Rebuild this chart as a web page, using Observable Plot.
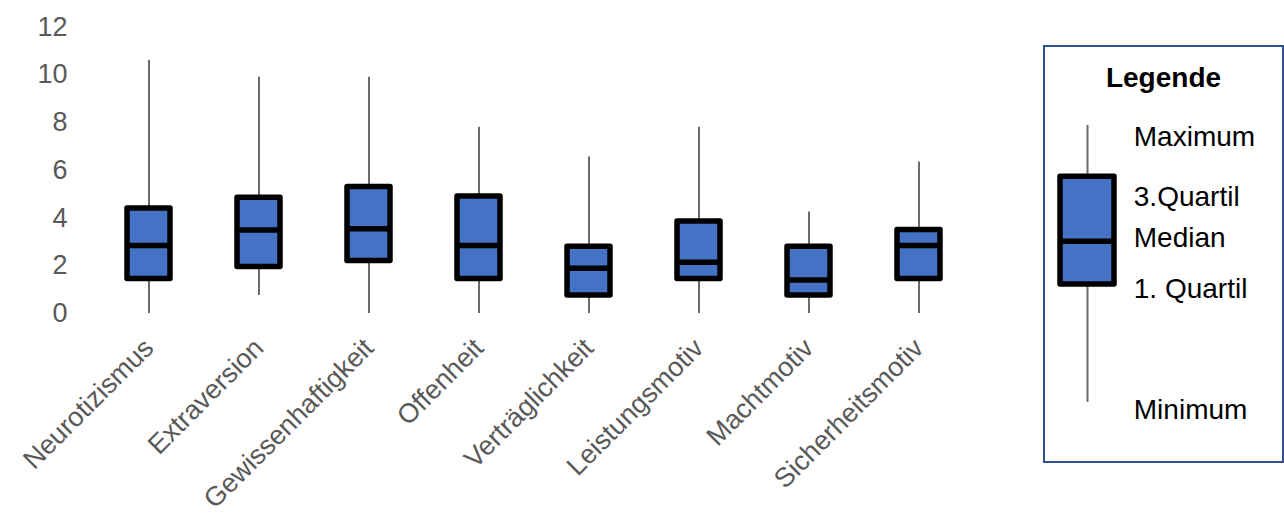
<!DOCTYPE html>
<html>
<head>
<meta charset="utf-8">
<script src="https://cdn.jsdelivr.net/npm/d3@7"></script>
<script src="https://cdn.jsdelivr.net/npm/@observablehq/plot@0.6"></script>
<style>
  body { margin: 0; background: #fff; font-family: "Liberation Sans", Arial, sans-serif; }
  #wrap { position: relative; width: 1284px; height: 517px; overflow: hidden; background: #fff; }
  #chart { position: absolute; left: 0; top: 0; }
  #legend { position: absolute; left: 1043px; top: 45px; width: 241px; height: 418px; box-sizing: border-box; border: 2px solid #2F528F; }
  #legend-title { position: absolute; left: 0; right: 0; top: 17px; text-align: center; font-weight: bold; font-size: 28px; line-height: 28px; color: #000; }
  #legend-plot { position: absolute; left: 0; top: 0; }
</style>
</head>
<body>
<div id="wrap">
  <div id="chart"></div>
  <div id="legend">
    <div id="legend-plot"></div>
    <div id="legend-title">Legende</div>
  </div>
</div>
<script>
// ---- data ----
const categories = ["Neurotizismus", "Extraversion", "Gewissenhaftigkeit", "Offenheit", "Verträglichkeit", "Leistungsmotiv", "Machtmotiv", "Sicherheitsmotiv"];
const minimum   = [0,    0.75, 0,    0,    0,    0,    0,    0];
const quartile1 = [1.45, 1.95, 2.2,  1.45, 0.75, 1.45, 0.75, 1.45];
const median    = [2.85, 3.5,  3.55, 2.85, 1.9,  2.15, 1.4,  2.85];
const quartile3 = [4.4,  4.85, 5.3,  4.9,  2.8,  3.85, 2.8,  3.5];
const maximum   = [10.6, 9.9,  9.9,  7.8,  6.55, 7.8,  4.25, 6.35];
const yTicks = [0, 2, 4, 6, 8, 10, 12];

const legendLabels = ["Maximum", "3.Quartil", "Median", "1. Quartil", "Minimum"];
const legendValues = [10, 8.15, 5.82, 4.25, 0]; // max, q3, median, q1, min (schematic)

const data = categories.map((c, i) => ({
  cat: c, min: minimum[i], q1: quartile1[i], med: median[i], q3: quartile3[i], max: maximum[i]
}));

const font = "'Liberation Sans', Arial, sans-serif";
const boxFill = "#4472C4";
const whisker = "#6b6b6b";

const chart = Plot.plot({
  width: 1000,
  height: 517,
  marginLeft: 93,
  marginRight: 27,
  marginTop: 26.5,
  marginBottom: 204,
  style: { fontFamily: font, background: "transparent", overflow: "visible" },
  x: { domain: categories, paddingInner: 0.6136, paddingOuter: 0.3068, label: null },
  y: { domain: [0, 12], label: null },
  marks: [
    Plot.ruleX(data, { x: "cat", y1: "min", y2: "max", stroke: whisker, strokeWidth: 2 }),
    Plot.barY(data, { x: "cat", y1: "q1", y2: "q3", fill: boxFill, stroke: "#000", strokeWidth: 5.5, strokeLinejoin: "round" }),
    Plot.tickY(data, { x: "cat", y: "med", stroke: "#000", strokeWidth: 5.5 }),
    Plot.axisY({ ticks: yTicks, tickSize: 0, tickPadding: 26, fontSize: 27, fill: "#595959", label: null }),
    Plot.axisX({ tickSize: 0, tickPadding: 30, tickRotate: -45, fontSize: 27, fill: "#595959", label: null })
  ]
});
document.getElementById("chart").appendChild(chart);

// ---- legend ----
const L = legendValues;
const legendDatum = [{ k: "box", max: L[0], q3: L[1], med: L[2], q1: L[3], min: L[4] }];
const labelOffsets = [12, 20, -3, 4, 8];
const legend = Plot.plot({
  width: 237,
  height: 414,
  marginLeft: 14.45,
  marginRight: 168.05,
  marginTop: 78,
  marginBottom: 59.3,
  style: { fontFamily: font, background: "transparent", overflow: "visible" },
  x: { domain: ["box"], padding: 0, axis: null },
  y: { domain: [0, 10], axis: null },
  marks: [
    Plot.ruleX(legendDatum, { x: "k", y1: "min", y2: "max", stroke: whisker, strokeWidth: 2 }),
    Plot.barY(legendDatum, { x: "k", y1: "q1", y2: "q3", fill: boxFill, stroke: "#000", strokeWidth: 5.5, strokeLinejoin: "round" }),
    Plot.tickY(legendDatum, { x: "k", y: "med", stroke: "#000", strokeWidth: 5.5 }),
    ...legendLabels.map((t, i) =>
      Plot.text([{ k: "box", v: legendValues[i], t }], {
        x: "k", y: "v", text: "t", dx: 46.3, dy: labelOffsets[i],
        textAnchor: "start", lineAnchor: "middle", fontSize: 28, fill: "#000"
      })
    )
  ]
});
document.getElementById("legend-plot").appendChild(legend);
</script>
</body>
</html>
